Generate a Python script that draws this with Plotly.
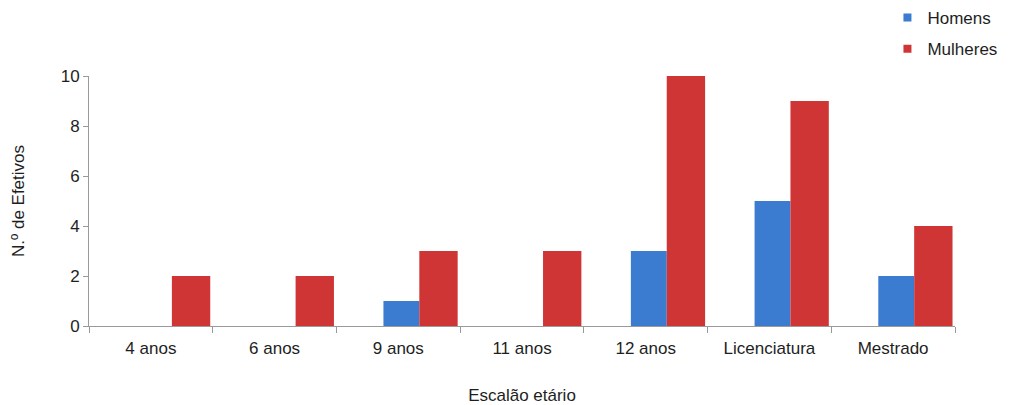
import plotly.graph_objects as go

categorias = ["4 anos", "6 anos", "9 anos", "11 anos", "12 anos", "Licenciatura", "Mestrado"]
homens = [0, 0, 1, 0, 3, 5, 2]
mulheres = [2, 2, 3, 3, 10, 9, 4]

azul = "#3b7bd0"
vermelho = "#cf3535"
texto = "#1e1e1e"
eixo = "#9a9a9a"
fonte = "Liberation Sans, Arial, sans-serif"

fig = go.Figure()

# Bars (legend entries are drawn by the marker-only traces below)
fig.add_trace(go.Bar(
    x=categorias, y=homens, name="Homens", showlegend=False,
    marker=dict(color=azul, line=dict(width=0)),
    width=0.29, offset=-0.12,
))
fig.add_trace(go.Bar(
    x=categorias, y=mulheres, name="Mulheres", showlegend=False,
    marker=dict(color=vermelho, line=dict(width=0)),
    width=0.31, offset=0.17,
))

# Small square legend keys
for nome, cor, grupo in [("Homens", azul, "h"), ("Mulheres", vermelho, "m")]:
    fig.add_trace(go.Scatter(
        x=[None], y=[None], mode="markers", name=nome, legendgroup=grupo,
        marker=dict(symbol="square", size=8, color=cor),
    ))

fig.update_layout(
    width=1013, height=405,
    margin=dict(l=89, r=58, t=76, b=79, autoexpand=False),
    paper_bgcolor="white", plot_bgcolor="white",
    font=dict(family=fonte, size=17, color=texto),
    showlegend=True,
    legend=dict(
        x=0.922, y=1.0, xref="paper", yref="container",
        xanchor="left", yanchor="top",
        font=dict(size=17, color=texto),
        itemwidth=30, tracegroupgap=6,
        bgcolor="rgba(0,0,0,0)",
    ),
    barmode="overlay",
)
fig.update_xaxes(
    title=dict(text="Escalão etário", standoff=32, font=dict(size=17)),
    showline=True, linecolor=eixo, linewidth=1,
    ticks="outside", tickson="boundaries", ticklen=6, tickcolor=eixo,
    ticklabelstandoff=7,
    showgrid=False, range=[-0.5, 6.5],
)
fig.update_yaxes(
    title=dict(text="N.º de Efetivos", standoff=31, font=dict(size=17)),
    range=[0, 10], dtick=2,
    showline=True, linecolor=eixo, linewidth=1,
    ticks="outside", ticklen=5, tickcolor=eixo,
    showgrid=False, zeroline=False,
)

fig.write_html("out.html")
